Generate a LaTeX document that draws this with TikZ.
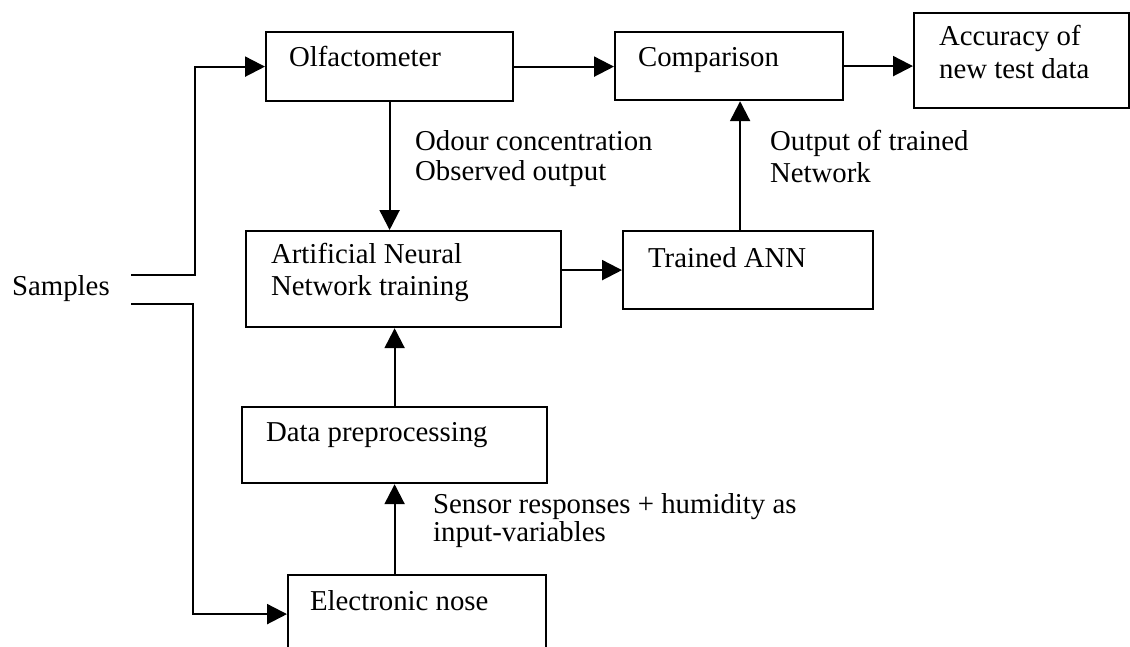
\documentclass[tikz,border=0pt]{standalone}
\usepackage{fontspec}
\setmainfont{Liberation Serif}
\usetikzlibrary{arrows.meta,calc}

\begin{document}
\begin{tikzpicture}[x=1pt, y=-1pt, line width=2.2pt,
  blok/.style={draw, line width=2.2pt, inner sep=0pt, anchor=north west},
  txt/.style={inner sep=0pt, anchor=base west, align=left,
    font=\fontsize{28.8}{32}\selectfont},
  flow/.style={-{Triangle[length=20pt,width=20pt]}}]
  \clip (0,0) rectangle (1130,646);
  \fill[white] (0,0) rectangle (1130,646);

  % boxes
  \node [blok, minimum width=247pt, minimum height=69pt] (olf) at (265,31) {};
  \node [blok, minimum width=228pt, minimum height=68pt] (comp) at (614,31) {};
  \node [blok, minimum width=215pt, minimum height=95pt] (acc) at (913,12) {};
  \node [blok, minimum width=315pt, minimum height=96pt] (ann) at (245,230) {};
  \node [blok, minimum width=250pt, minimum height=78pt] (tann) at (622,230) {};
  \node [blok, minimum width=305pt, minimum height=76pt] (prep) at (241,406) {};
  \node [blok, minimum width=258pt, minimum height=78pt] (enose) at (287,574) {};

  % box texts (base = last line)
  \node [txt] (olfT) at (288,66) {Olfactometer};
  \node [txt] (compT) at (637,66) {Comparison};
  \node [txt] (accT) at (938,78) {Accuracy of\\[1pt]new test data};
  \node [txt] (annT) at (270,295) {Artificial Neural\\Network training};
  \node [txt] (tannT) at (647,267) {Trained ANN};
  \node [txt] (prepT) at (265,441) {Data preprocessing};
  \node [txt] (enoseT) at (309,610) {Electronic nose};

  % inputs
  \node [txt] (smp) at (11,295) {Samples};
  \coordinate (smp1) at (131,275);
  \coordinate (smp2) at (131,304);

  % connector labels
  \node [txt] (odour) at (414,180) {Odour concentration\\[-2pt]Observed output};
  \node [txt] (outp) at (769,182) {Output of trained\\Network};
  \node [txt] (sens) at (432,541) {Sensor responses + humidity as\\[-4pt]input-variables};

  \draw [flow] (smp1) -- ++(64,0) |- (olf.west);
  \draw [flow] (smp2) -- ++(62,0) |- (enose.west);
  \draw [flow] (olf.south) -- (olf.south |- ann.north);
  \draw [flow] (olf.east) -- (olf.east -| comp.west);
  \draw [flow] (comp.east) -- (comp.east -| acc.west);
  \draw [flow] (ann.east |- tann.west) -- (tann.west);
  \draw [flow] ([xshift=-8pt]tann.north) -- ([xshift=-8pt]tann.north |- comp.south);
  \draw [flow] (prep.north) -- (prep.north |- ann.south);
  \draw [flow] (prep.south |- enose.north) -- (prep.south);
\end{tikzpicture}
\end{document}
